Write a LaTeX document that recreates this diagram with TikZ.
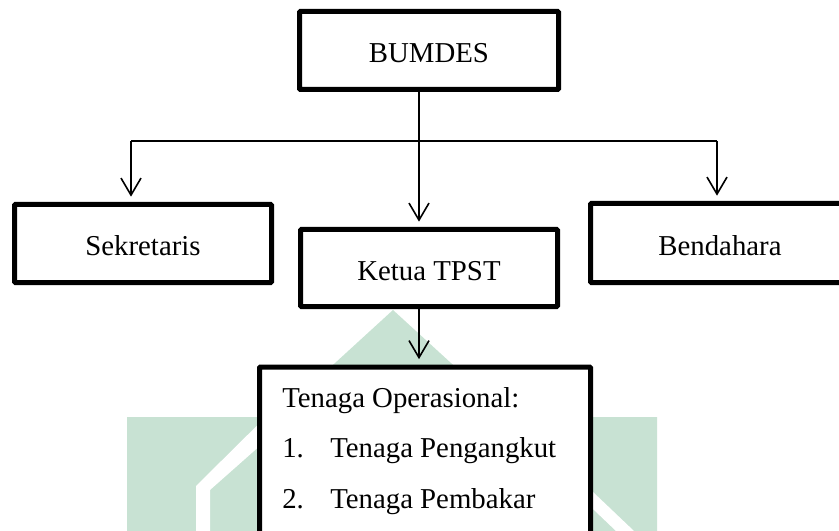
\documentclass[tikz,border=0pt]{standalone}
\usepackage{fontspec}
\setmainfont{Liberation Serif}
\usetikzlibrary{arrows.meta}

\definecolor{wmgreen}{RGB}{200,226,211}

\tikzset{
  box/.style={draw, line width=3.75pt, fill=white, inner sep=0pt,
    rounded corners=0.6pt, text height=18pt, text depth=0pt},
  boxsize/.style 2 args={minimum width={#1*0.75pt}, minimum height={#2*0.75pt}},
  link/.style={line width=1.2pt},
  arr/.style={link, -{Straight Barb[length=12.75pt,width=15pt,line width=1.2pt]},
    shorten >=4pt},
  item/.style={anchor=base west, inner sep=0pt},
}

\begin{document}
\begin{tikzpicture}[x=0.75pt, y=-0.75pt,
    font=\fontsize{21.6pt}{26pt}\selectfont]
  \useasboundingbox (0,0) rectangle (839,531);
  \clip (0,0) rectangle (839,531);

  % faint logo in the background
  \fill[wmgreen] (127,531) -- (127,417) -- (276,417) -- (393,310)
    -- (510,417) -- (657,417) -- (657,531) -- cycle;
  \fill[white] (196,531) -- (196,486) -- (300,383) -- (315,397)
    -- (210,490) -- (210,531) -- cycle;
  \fill[white] (560,460.6) -- (634,531) -- (616,531) -- (560,477.6) -- cycle;

  % boxes
  \node[box, boxsize={259}{78}] (bumdes) at (429,50.5) {BUMDES};
  \node[box, boxsize={257}{78}] (sek)    at (143,243.5) {Sekretaris};
  \node[box, boxsize={257}{77}] (ketua)  at (429,268) {Ketua TPST};
  \node[box, boxsize={259}{79}] (bend)   at (720,243) {Bendahara};
  \node[box, boxsize={331}{270}] (ops)   at (425,502) {};

  % contents of the operational staff box
  \node[item] (opsT)  at (282,407) {Tenaga Operasional:};
  \node[item] (ops1n) at (282,457) {1.};
  \node[item] (ops1)  at (330,457) {Tenaga Pengangkut};
  \node[item] (ops2n) at (282,508) {2.};
  \node[item] (ops2)  at (330,508) {Tenaga Pembakar};

  % connectors
  \coordinate (bar)  at (419,141);
  \coordinate (barL) at (131,141);
  \coordinate (barR) at (717,141);

  \draw[link] (bar |- bumdes.south) -- (bar);
  \draw[link] (barL) -- (barR);
  \draw[arr] (barL) -- (barL |- sek.north);
  \draw[arr] (bar)  -- (bar |- ketua.north);
  \draw[arr] (barR) -- (barR |- bend.north);
  \draw[arr] (bar |- ketua.south) -- (bar |- ops.north);
\end{tikzpicture}
\end{document}
